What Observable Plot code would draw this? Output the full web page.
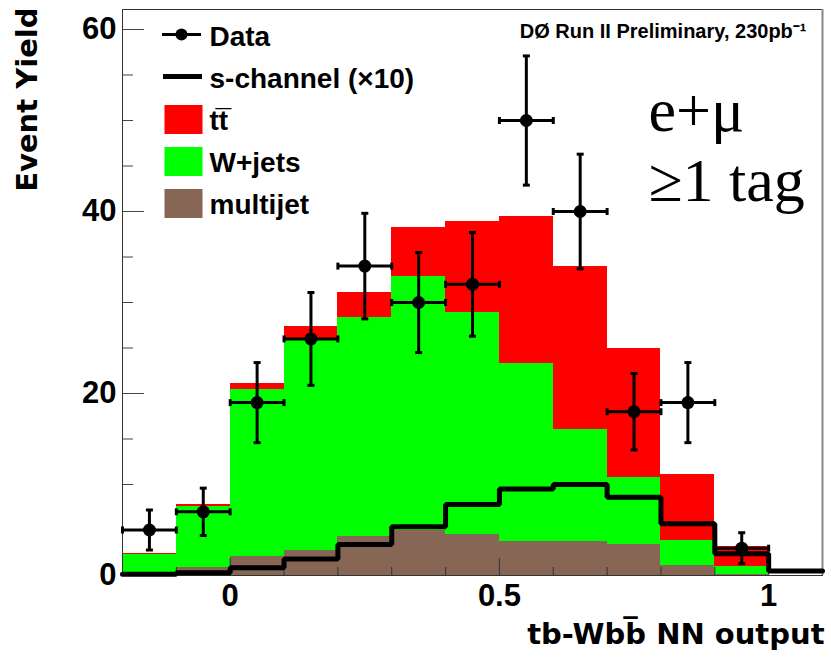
<!DOCTYPE html>
<html>
<head>
<meta charset="utf-8">
<script src="https://cdn.jsdelivr.net/npm/d3@7"></script>
<script src="https://cdn.jsdelivr.net/npm/@observablehq/plot@0.6"></script>
<style>
  html, body { margin: 0; padding: 0; background: white; }
</style>
</head>
<body>
<div id="chart"></div>
<script>
// ---- data ----
const binLo    = [-0.2, -0.1, 0.0, 0.1, 0.2, 0.3, 0.4, 0.5, 0.6, 0.7, 0.8, 0.9, 1.0];
const binHi    = [-0.1,  0.0, 0.1, 0.2, 0.3, 0.4, 0.5, 0.6, 0.7, 0.8, 0.9, 1.0, 1.1];
const multijet = [0.1, 0.9, 2.1, 2.8, 4.3, 4.9, 4.5, 3.7, 3.7, 3.4, 1.1, 0.15, 0];
const wjets    = [2.2, 6.7, 18.3, 23.2, 24.0, 28.0, 24.4, 19.6, 12.3, 7.4, 2.8, 0.85, 0];
const ttbar    = [0.15, 0.2, 0.7, 1.4, 2.8, 5.3, 10.0, 16.2, 18.0, 14.1, 7.2, 2.2, 0];
const schannel = [0.15, 0.3, 0.85, 1.8, 3.4, 5.35, 7.8, 9.5, 10.0, 8.6, 5.7, 2.4, 0.5];
const dataX    = [-0.15, -0.05, 0.05, 0.15, 0.25, 0.35, 0.45, 0.55, 0.65, 0.75, 0.85, 0.95];
const dataY    = [5, 7, 19, 26, 34, 30, 32, 50, 40, 18, 19, 3];
const dataErr  = [2.2, 2.6, 4.4, 5.1, 5.8, 5.5, 5.7, 7.1, 6.3, 4.2, 4.4, 1.7];
const dataXErr = [0.05, 0.05, 0.05, 0.05, 0.05, 0.05, 0.05, 0.05, 0.05, 0.05, 0.05, 0.05];

const processNames  = ["multijet", "W+jets", "tt\u0305"];
const legendLabels  = ["Data", "s-channel (\u00d710)", "tt\u0305", "W+jets", "multijet"];
const yMajorTicks   = [0, 20, 40, 60];
const yMinorTicks   = [5, 10, 15, 25, 30, 35, 45, 50, 55];
const xMajorTicks   = [0, 0.5, 1];
const xTickLabels   = ["0", "0.5", "1"];
const xMinorTicks   = [-0.1, 0.1, 0.2, 0.3, 0.4, 0.6, 0.7, 0.8, 0.9];
const headerText    = "D\u00d8 Run II Preliminary, 230pb\u207b\u00b9";
const xTitle        = "tb-Wbb\u0305 NN output";
const yTitle        = "Event Yield";
const channelText   = ["e+\u03bc", "\u22651 tag"];

// ---- derived tables for the library ----
const colors = {"multijet": "#876656", "W+jets": "#00ff00", "tt\u0305": "#ff0000"};
const series = [multijet, wjets, ttbar];
const stackRows = [];
binLo.forEach((lo, i) => {
  let base = 0;
  series.forEach((s, k) => {
    stackRows.push({x1: lo, x2: binHi[i], y1: base, y2: base + s[i], process: processNames[k]});
    base += s[i];
  });
});
const sLine = [];
binLo.forEach((lo, i) => { sLine.push({x: lo, y: schannel[i]}); sLine.push({x: binHi[i], y: schannel[i]}); });
const points = dataX.map((x, i) => ({x, y: dataY[i], e: dataErr[i], ex: dataXErr[i]}));

// custom symbols for error-bar caps and legend glyphs
const hCap = {draw(ctx) { ctx.moveTo(-3.5, 0); ctx.lineTo(3.5, 0); }};
const vCap = {draw(ctx) { ctx.moveTo(0, -3.5); ctx.lineTo(0, 3.5); }};
const hLine = {draw(ctx) { ctx.moveTo(-19.5, 0); ctx.lineTo(19.5, 0); }};
const box = {draw(ctx) { ctx.rect(-19, -14.5, 38, 29); }};

const sans = "Liberation Sans, Arial, Helvetica, sans-serif";
const wide = "DejaVu Sans, Verdana, sans-serif";
const serif = "Liberation Serif, Times New Roman, serif";

const W = 831, H = 657, mL = 122, mR = 9, mT = 9, mB = 82;
const fw = W - mL - mR, fh = H - mT - mB;

const legendMarks = [];
const rowY = i => 25 + 42 * i;
legendMarks.push(Plot.dot([legendLabels[0]], {frameAnchor: "top-left", dx: 59, dy: rowY(0), symbol: hLine, fill: "none", stroke: "black", strokeWidth: 3}));
legendMarks.push(Plot.dot([legendLabels[0]], {frameAnchor: "top-left", dx: 59, dy: rowY(0), r: 6, fill: "black", stroke: "none"}));
legendMarks.push(Plot.dot([legendLabels[1]], {frameAnchor: "top-left", dx: 60, dy: rowY(1), symbol: hLine, fill: "none", stroke: "black", strokeWidth: 5}));
processNames.slice().reverse().forEach((p, j) => {
  legendMarks.push(Plot.dot([p], {frameAnchor: "top-left", dx: 61, dy: rowY(2 + j) + 1, symbol: box, fill: colors[p], stroke: "none"}));
});
legendLabels.forEach((lab, i) => {
  legendMarks.push(Plot.text([lab], {frameAnchor: "top-left", dx: 87, dy: rowY(i) + 11, text: d => d, textAnchor: "start", lineAnchor: "bottom", fontSize: 28, fontWeight: "bold", fontFamily: sans, fill: "black"}));
});

const chart = Plot.plot({
  width: W, height: H,
  marginLeft: mL, marginRight: mR, marginTop: mT, marginBottom: mB,
  x: {domain: [-0.2, 1.1]},
  y: {domain: [0, 62.2]},
  color: {domain: Object.keys(colors), range: Object.values(colors)},
  style: {fontFamily: sans, background: "white", color: "black"},
  marks: [
    Plot.rect(stackRows, {x1: "x1", x2: "x2", y1: "y1", y2: "y2", fill: "process", shapeRendering: "crispEdges"}),
    Plot.tickY(yMajorTicks, {y: d => d, insetRight: fw - 22, stroke: "#444", strokeWidth: 1}),
    Plot.tickY(yMinorTicks, {y: d => d, insetRight: fw - 11, stroke: "#444", strokeWidth: 1}),
    Plot.tickX(xMajorTicks, {x: d => d, insetTop: fh - 17, stroke: "#333", strokeWidth: 1}),
    Plot.tickX(xMinorTicks, {x: d => d, insetTop: fh - 8, stroke: "#333", strokeWidth: 1}),
    Plot.frame({stroke: "#333", strokeWidth: 1}),
    Plot.ruleX([1.1], {stroke: "#888", strokeWidth: 2}),
    Plot.axisY(yMajorTicks, {tickSize: 0, tickPadding: 6, label: null, fontSize: 31, fontWeight: "bold", fontFamily: sans}),
    Plot.axisX(xMajorTicks, {tickSize: 0, tickPadding: 8, label: null, fontSize: 31, fontWeight: "bold", fontFamily: sans,
      tickFormat: d => xTickLabels[xMajorTicks.indexOf(d)]}),
    Plot.line(sLine, {x: "x", y: "y", stroke: "black", strokeWidth: 5, strokeLinejoin: "miter"}),
    // data with error bars
    Plot.ruleX(points, {x: "x", y1: d => d.y - d.e, y2: d => d.y + d.e, stroke: "black", strokeWidth: 3}),
    Plot.ruleY(points, {y: "y", x1: d => d.x - d.ex, x2: d => d.x + d.ex, stroke: "black", strokeWidth: 3}),
    Plot.dot(points, {x: "x", y: d => d.y + d.e, symbol: hCap, fill: "none", stroke: "black", strokeWidth: 3}),
    Plot.dot(points, {x: "x", y: d => d.y - d.e, symbol: hCap, fill: "none", stroke: "black", strokeWidth: 3}),
    Plot.dot(points, {x: d => d.x - d.ex, y: "y", symbol: vCap, fill: "none", stroke: "black", strokeWidth: 3}),
    Plot.dot(points, {x: d => d.x + d.ex, y: "y", symbol: vCap, fill: "none", stroke: "black", strokeWidth: 3}),
    Plot.dot(points, {x: "x", y: "y", r: 6.5, fill: "black", stroke: "none"}),
    // texts
    Plot.text([headerText], {frameAnchor: "top-right", dx: -16, dy: 28, text: d => d, textAnchor: "end", lineAnchor: "bottom", fontSize: 20, fontWeight: "bold", fontFamily: sans, fill: "black"}),
    Plot.text([channelText[0]], {frameAnchor: "top-left", dx: 526, dy: 121, text: d => d, textAnchor: "start", lineAnchor: "bottom", fontSize: 62, fontFamily: serif, fill: "black"}),
    Plot.text([channelText[1]], {frameAnchor: "top-left", dx: 526, dy: 191, text: d => d, textAnchor: "start", lineAnchor: "bottom", fontSize: 62, fontFamily: serif, fill: "black"}),
    Plot.text([xTitle], {frameAnchor: "bottom-right", dx: 2, dy: 68, text: d => d, textAnchor: "end", lineAnchor: "bottom", fontSize: 29, fontWeight: "bold", fontFamily: wide, fill: "black"}),
    Plot.text([yTitle], {frameAnchor: "top-left", dx: -95, dy: -2, rotate: -90, text: d => d, textAnchor: "end", lineAnchor: "middle", fontSize: 29, fontWeight: "bold", fontFamily: wide, fill: "black"}),
    ...legendMarks
  ]
});
document.getElementById("chart").appendChild(chart);
</script>
</body>
</html>
